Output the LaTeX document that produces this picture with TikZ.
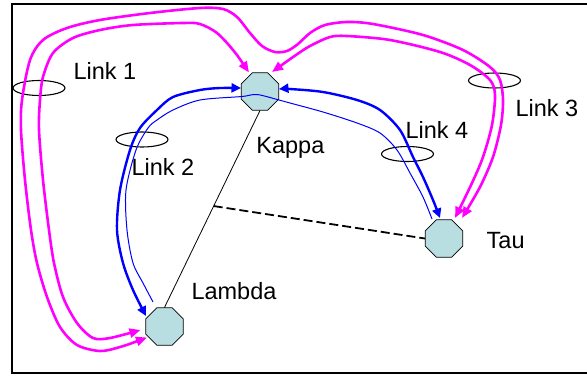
\documentclass[tikz,border=0pt]{standalone}
\usepackage{fontspec}
\setmainfont{Liberation Sans}
\usetikzlibrary{shapes.geometric,arrows.meta,calc}
\definecolor{nodefill}{RGB}{185,222,226}
\definecolor{linkmag}{RGB}{255,0,255}
\definecolor{linkblue}{RGB}{0,0,255}
\begin{document}
\begin{tikzpicture}[x=1pt,y=1pt,
  router/.style={draw=black,line width=0.7pt,fill=nodefill,regular polygon,regular polygon sides=8,minimum size=40.5pt,inner sep=0pt},
  lbl/.style={anchor=base west,inner sep=0pt,font=\fontsize{23.5}{28}\selectfont},
  linkring/.style={draw=black,line width=1.1pt,ellipse,minimum width=52pt,minimum height=15pt,inner sep=0pt},
  magpath/.style={draw=linkmag,line width=2.6pt,{Triangle[length=11pt,width=9pt]}-{Triangle[length=11pt,width=9pt]}},
  bluepath/.style={draw=linkblue,line width=2.4pt,{Triangle[length=9.5pt,width=9pt]}-{Triangle[length=9.5pt,width=9pt]}},
  thinblue/.style={draw=linkblue,line width=1pt},
  fibre/.style={draw=black,line width=0.8pt},
  dashlink/.style={draw=black,line width=1.8pt,dash pattern=on 9pt off 4pt},
  frameline/.style={draw=black,line width=1.6pt}
]
\useasboundingbox (0,0) rectangle (587,376);
\draw[frameline] (587,372) -- (12,372) -- (12,3) -- (587,3);

% routers
\node[router] (kappa) at (260,284.5) {};
\node[router] (lambda) at (164.5,49.5) {};
\node[router] (tau) at (444,137.5) {};

% physical links
\draw[fibre] (kappa.south) -- (lambda.north);
\coordinate (mid) at ($(kappa.south)!0.485!(lambda.north)$);
\draw[dashlink] (mid) -- (tau.west);

% link rings
\node[linkring] (ring1) at (39,288) {};
\node[linkring] (ring2) at (142,236.5) {};
\node[linkring] (ring3) at (494.5,295.5) {};
\node[linkring] (ring4) at (407.5,222) {};

% labels
\node[lbl] (t1) at (73.3,297) {Link 1};
\node[lbl] (t2) at (131.3,201) {Link 2};
\node[lbl] (t3) at (515.3,260) {Link 3};
\node[lbl] (t4) at (405.3,238) {Link 4};
\node[lbl] (tk) at (256.2,223) {Kappa};
\node[lbl] (tl) at (191.3,77) {Lambda};
\node[lbl] (tt) at (486.5,128) {Tau};

% end points
\coordinate (m1a) at ($(kappa)+(-11,19)$);
\coordinate (m1b) at ($(lambda)+(-24,-3.5)$);
\coordinate (m2a) at ($(lambda)+(-17.5,-11)$);
\coordinate (m2b) at ($(tau)+(18,20.5)$);
\coordinate (m3a) at ($(kappa)+(12,19.5)$);
\coordinate (m3b) at ($(tau)+(11,20.5)$);
\coordinate (b1a) at ($(kappa)+(-19,3.5)$);
\coordinate (b1b) at ($(lambda)+(-18.5,10.5)$);
\coordinate (b2a) at ($(lambda)+(-11.5,24.5)$);
\coordinate (b2b) at ($(tau)+(-12,19.5)$);
\coordinate (b3a) at ($(kappa)+(19,2.5)$);
\coordinate (b3b) at ($(tau)+(-4,20.5)$);

% magenta lightpaths
\draw[magpath] plot[smooth,tension=0.5] coordinates {(m1a) (233,326) (217,343) (200,352) (183,353) (133,351) (100,346) (73,338) (53,323) (43,299) (40,276) (39,246) (43,196) (49,146) (54,113) (63,79) (77,53) (93,38) (110,38) (m1b)};
\draw[magpath] plot[smooth,tension=0.5] coordinates {(m2a) (120,29) (100,25) (77,31) (60,49) (47,79) (37,113) (31,146) (25,196) (21,246) (22,276) (30,316) (43,336) (67,348) (100,356) (150,363) (200,368) (223,367) (237,359) (250,343) (262,330) (275,324) (287,325) (298,332) (310,343) (325,351) (347,354) (373,352) (423,341) (463,326) (490,309) (500,296) (503,276) (501,251) (493,219) (480,189) (m2b)};
\draw[magpath] plot[smooth,tension=0.5] coordinates {(m3a) (296,321) (310,330) (330,339) (347,340) (390,336) (440,324) (470,311) (490,296) (495,281) (492,251) (483,219) (472,193) (m3b)};

% blue lightpaths
\draw[bluepath] plot[smooth,tension=0.5] coordinates {(b1a) (220,288) (200,286) (173,279) (157,266) (140,248) (130,226) (120,186) (117,146) (123,113) (133,86) (b1b)};
\draw[thinblue] plot[smooth,tension=0.5] coordinates {(b2a) (143,93) (133,113) (127,146) (126,186) (136,226) (148,248) (157,256) (173,266) (200,276) (242,279.5) (257,281.5) (279,276) (290,273) (323,264) (357,253) (380,243) (397,226) (410,203) (423,179) (b2b)};
\draw[bluepath] plot[smooth,tension=0.5] coordinates {(b3a) (290,287) (323,284) (357,276) (380,266) (400,246) (413,219) (423,199) (433,176) (b3b)};
\end{tikzpicture}
\end{document}
